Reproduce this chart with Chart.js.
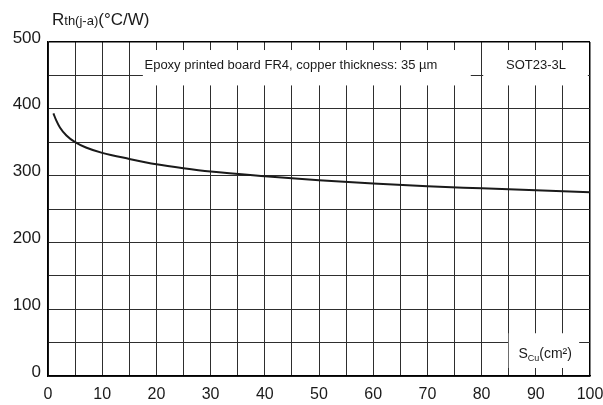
<!DOCTYPE html>
<html>
<head>
<meta charset="utf-8">
<script src="https://cdn.jsdelivr.net/npm/chart.js@4/dist/chart.umd.min.js"></script>
<style>
  html, body { margin: 0; padding: 0; background: #fff; }
  #wrap { width: 603px; height: 405px; }
</style>
</head>
<body>
<div id="wrap"><canvas id="myChart" width="603" height="405"></canvas></div>
<script>
// copper area (cm²) and thermal resistance (°C/W)
const copperArea = [1, 1.5, 2.2, 3.4, 5, 7, 10, 15, 20, 25, 30, 40, 50, 60, 70, 80, 90, 100];
const rthValues = [393, 383, 372, 360, 350, 342, 334, 325, 317, 311, 306, 299, 293, 288, 284, 281, 278, 275];

const xMin = 0, xMax = 100, xStep = 5, xLabelStep = 10;
const yMin = 0, yMax = 500, yStep = 50, yLabelStep = 100;

const FONT = "'Liberation Sans', Arial, sans-serif";

// white boxes with the notes drawn over the grid
const notesPlugin = {
  id: "notes",
  afterDraw(chart) {
    const ctx = chart.ctx;
    const x = chart.scales.x;
    const y = chart.scales.y;
    ctx.save();

    // board note
    ctx.fillStyle = "#fff";
    ctx.fillRect(x.getPixelForValue(17.5), y.getPixelForValue(488), x.getPixelForValue(78) - x.getPixelForValue(17.5), y.getPixelForValue(435) - y.getPixelForValue(488));
    ctx.fillRect(x.getPixelForValue(80.3), y.getPixelForValue(488), x.getPixelForValue(99.6) - x.getPixelForValue(80.3), y.getPixelForValue(435) - y.getPixelForValue(488));
    ctx.fillStyle = "#1a1a1a";
    ctx.font = "13px " + FONT;
    ctx.textBaseline = "middle";
    ctx.textAlign = "left";
    ctx.fillText("Epoxy printed board FR4, copper thickness: 35 µm", x.getPixelForValue(17.8), y.getPixelForValue(465));
    ctx.fillText("SOT23-3L", x.getPixelForValue(84.5), y.getPixelForValue(465));

    // x axis title
    ctx.fillStyle = "#fff";
    ctx.fillRect(x.getPixelForValue(85), y.getPixelForValue(64), x.getPixelForValue(98) - x.getPixelForValue(85), y.getPixelForValue(12) - y.getPixelForValue(64));
    ctx.fillStyle = "#1a1a1a";
    ctx.textBaseline = "alphabetic";
    let px = x.getPixelForValue(86.8);
    const base = y.getPixelForValue(27);
    ctx.font = "14px " + FONT;
    ctx.fillText("S", px, base);
    px += ctx.measureText("S").width;
    ctx.font = "9px " + FONT;
    ctx.fillText("Cu", px, base + 3);
    px += ctx.measureText("Cu").width;
    ctx.font = "14px " + FONT;
    ctx.fillText("(cm²)", px, base);

    // y axis title
    px = 52;
    ctx.font = "17px " + FONT;
    ctx.fillText("R", px, 25);
    px += ctx.measureText("R").width;
    ctx.font = "13px " + FONT;
    ctx.fillText("th(j-a)", px, 25);
    px += ctx.measureText("th(j-a)").width;
    ctx.font = "17px " + FONT;
    ctx.fillText("(°C/W)", px, 25);

    ctx.restore();
  }
};

const ctx = document.getElementById("myChart").getContext("2d");

const myChart = new Chart(ctx, {
  type: "line",
  data: {
    datasets: [
      {
        data: copperArea.map((a, i) => ({ x: a, y: rthValues[i] })),
        borderColor: "#1a1a1a",
        borderWidth: 2,
        pointRadius: 0,
        cubicInterpolationMode: "monotone",
        fill: false,
      },
    ],
  },
  options: {
    responsive: false,
    animation: false,
    layout: { padding: { top: 42, right: 13, left: 0, bottom: 0 } },
    plugins: { legend: { display: false }, tooltip: { enabled: false } },
    scales: {
      x: {
        type: "linear",
        min: xMin,
        max: xMax,
        afterFit: (scale) => {
          scale.height = 29;
          scale.paddingRight = 0;
          scale.paddingLeft = 0;
        },
        ticks: {
          stepSize: xStep,
          autoSkip: false,
          maxRotation: 0,
          padding: 9,
          color: "#1a1a1a",
          font: { family: FONT, size: 16 },
          callback: (v) => (v % xLabelStep === 0 ? v : ""),
        },
        grid: {
          drawTicks: false,
          color: (c) => (c.tick && c.tick.value === xMax ? "#000" : "#2e2e2e"),
          lineWidth: (c) => (c.tick && c.tick.value === xMax ? 1.5 : 1),
        },
        border: { color: "#000", width: 1.5 },
      },
      y: {
        min: yMin,
        max: yMax,
        afterFit: (scale) => { scale.width = 48; },
        ticks: {
          stepSize: yStep,
          autoSkip: false,
          padding: 7,
          labelOffset: -4,
          color: "#1a1a1a",
          font: { family: FONT, size: 17 },
          callback: (v) => (v % yLabelStep === 0 ? v : ""),
        },
        grid: {
          drawTicks: false,
          color: (c) => (c.tick && c.tick.value === yMax ? "#000" : "#2e2e2e"),
          lineWidth: (c) => (c.tick && c.tick.value === yMax ? 1.5 : 1),
        },
        border: { color: "#000", width: 1.5 },
      },
    },
  },
  plugins: [notesPlugin],
});
</script>
</body>
</html>
